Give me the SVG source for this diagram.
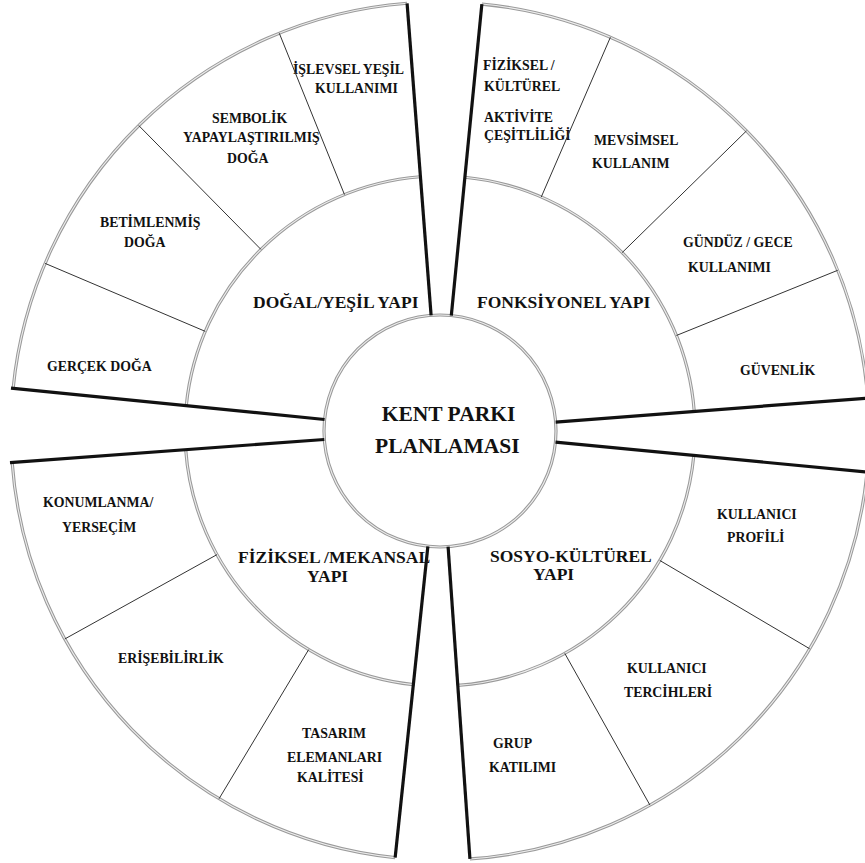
<svg xmlns="http://www.w3.org/2000/svg" xmlns:xlink="http://www.w3.org/1999/xlink" width="865" height="863" viewBox="0 0 865 863">
<style>
.ring{fill:none;stroke:#9a9a9a;stroke-width:3.2}
.ring-in{fill:none;stroke:#eeeeee;stroke-width:1.1}
.thick{stroke:#111;stroke-width:3.2;stroke-linecap:butt}
.thin{stroke:#333;stroke-width:1}
text{font-family:"Liberation Serif","Times New Roman",serif;font-weight:bold;fill:#111}
.s{font-size:13.8px}
.m{font-size:17.5px}
.c{font-size:21.5px}
</style>
<defs>
<path id="tl1" d="M186.26,405.67 A255,255 0 0 1 420.44,176.75"/>
<path id="tl2" d="M13.12,388.39 A429,429 0 0 1 407.09,3.27"/>
<path id="tr1" d="M464.88,177.22 A255,255 0 0 1 694.25,411.44"/>
<path id="tr2" d="M481.86,4.05 A429,429 0 0 1 867.73,398.09"/>
<path id="br1" d="M693.83,455.44 A255,255 0 0 1 457.79,685.38"/>
<path id="br2" d="M867.03,472.12 A429,429 0 0 1 469.93,858.95"/>
<path id="bl1" d="M413.34,684.60 A255,255 0 0 1 185.69,449.68"/>
<path id="bl2" d="M395.16,857.65 A429,429 0 0 1 12.15,462.42"/>
<circle id="cc" cx="440" cy="431" r="116"/>
</defs>
<rect width="865" height="863" fill="#ffffff"/>
<g id="rings">
<use xlink:href="#tl1" class="ring"/><use xlink:href="#tl1" class="ring-in"/>
<use xlink:href="#tl2" class="ring"/><use xlink:href="#tl2" class="ring-in"/>
<use xlink:href="#tr1" class="ring"/><use xlink:href="#tr1" class="ring-in"/>
<use xlink:href="#tr2" class="ring"/><use xlink:href="#tr2" class="ring-in"/>
<use xlink:href="#br1" class="ring"/><use xlink:href="#br1" class="ring-in"/>
<use xlink:href="#br2" class="ring"/><use xlink:href="#br2" class="ring-in"/>
<use xlink:href="#bl1" class="ring"/><use xlink:href="#bl1" class="ring-in"/>
<use xlink:href="#bl2" class="ring"/><use xlink:href="#bl2" class="ring-in"/>
</g>
<g id="node-center">
<use xlink:href="#cc" class="ring"/><use xlink:href="#cc" class="ring-in"/>
<text class="c" x="381.7" y="420.7">KENT PARKI</text>
<text class="c" x="375" y="452.7">PLANLAMASI</text>
</g>
<g id="node-dogal-yesil-yapi"><text class="m" x="253" y="308.3">DOĞAL/YEŞİL YAPI</text></g>
<g id="node-gercek-doga"><text class="s" x="47" y="370.7">GERÇEK DOĞA</text></g>
<g id="node-betimlenmis-doga"><text class="s" x="100" y="226.7">BETİMLENMİŞ</text><text class="s" x="124" y="246.7">DOĞA</text></g>
<g id="node-sembolik"><text class="s" x="212" y="122.7">SEMBOLİK</text><text class="s" x="183" y="141.7">YAPAYLAŞTIRILMIŞ</text><text class="s" x="227" y="163">DOĞA</text></g>
<g id="node-islevsel"><text class="s" x="293" y="74">İŞLEVSEL YEŞİL</text><text class="s" x="315" y="92.7">KULLANIMI</text></g>
<g id="node-fonksiyonel-yapi"><text class="m" x="477" y="308.3">FONKSİYONEL YAPI</text></g>
<g id="node-aktivite"><text class="s" x="483" y="70">FİZİKSEL /</text><text class="s" x="484" y="90.7">KÜLTÜREL</text><text class="s" x="484" y="121.7">AKTİVİTE</text><text class="s" x="484" y="140">ÇEŞİTLİLİĞİ</text></g>
<g id="node-mevsimsel"><text class="s" x="594" y="145">MEVSİMSEL</text><text class="s" x="592" y="168.3">KULLANIM</text></g>
<g id="node-gunduz-gece"><text class="s" x="683" y="246.7">GÜNDÜZ / GECE</text><text class="s" x="688" y="271.7">KULLANIMI</text></g>
<g id="node-guvenlik"><text class="s" x="740" y="375">GÜVENLİK</text></g>
<g id="node-fiziksel-mekansal-yapi"><text class="m" x="238" y="563.3">FİZİKSEL /MEKANSAL</text><text class="m" x="307" y="581.7">YAPI</text></g>
<g id="node-konumlanma"><text class="s" x="43" y="506.7">KONUMLANMA/</text><text class="s" x="62" y="531.7">YERSEÇİM</text></g>
<g id="node-erisebilirlik"><text class="s" x="118" y="663.3">ERİŞEBİLİRLİK</text></g>
<g id="node-tasarim"><text class="s" x="302" y="738.3">TASARIM</text><text class="s" x="287" y="761.7">ELEMANLARI</text><text class="s" x="297" y="781.7">KALİTESİ</text></g>
<g id="node-sosyo-kulturel-yapi"><text class="m" x="490" y="561.7">SOSYO-KÜLTÜREL</text><text class="m" x="533" y="580">YAPI</text></g>
<g id="node-kullanici-profili"><text class="s" x="717" y="519.3">KULLANICI</text><text class="s" x="727" y="541.7">PROFİLİ</text></g>
<g id="node-kullanici-tercihleri"><text class="s" x="627" y="673.3">KULLANICI</text><text class="s" x="624" y="696.7">TERCİHLERİ</text></g>
<g id="node-grup-katilimi"><text class="s" x="493" y="748.3">GRUP</text><text class="s" x="489" y="771.7">KATILIMI</text></g>
<g id="connectors">
<line class="thin" x1="205.27" y1="331.36" x2="45.11" y2="263.38"/>
<line class="thin" x1="260.95" y1="249.43" x2="138.78" y2="125.54"/>
<line class="thin" x1="344.47" y1="194.57" x2="279.29" y2="33.24"/>
<line class="thin" x1="541.27" y1="196.97" x2="610.38" y2="37.29"/>
<line class="thin" x1="622.19" y1="252.59" x2="746.51" y2="130.85"/>
<line class="thin" x1="676.43" y1="335.47" x2="837.76" y2="270.29"/>
<line class="thin" x1="659.72" y1="560.42" x2="809.64" y2="648.73"/>
<line class="thin" x1="564.79" y1="653.38" x2="649.94" y2="805.12"/>
<line class="thin" x1="308.66" y1="649.58" x2="219.05" y2="798.73"/>
<line class="thin" x1="216.97" y1="554.63" x2="64.79" y2="638.98"/>
<line class="thick" x1="324.57" y1="419.48" x2="11" y2="388.2"/>
<line class="thick" x1="431.10" y1="315.34" x2="407.09" y2="3.27"/>
<line class="thick" x1="451.32" y1="315.55" x2="481.86" y2="4.05"/>
<line class="thick" x1="555.66" y1="422.10" x2="867.73" y2="398.09"/>
<line class="thick" x1="555.47" y1="442.12" x2="867.03" y2="472.12"/>
<line class="thick" x1="448.09" y1="546.72" x2="469.93" y2="858.95"/>
<line class="thick" x1="427.87" y1="546.36" x2="395.16" y2="857.65"/>
<line class="thick" x1="324.31" y1="439.50" x2="10" y2="462.6"/>
</g>
</svg>
